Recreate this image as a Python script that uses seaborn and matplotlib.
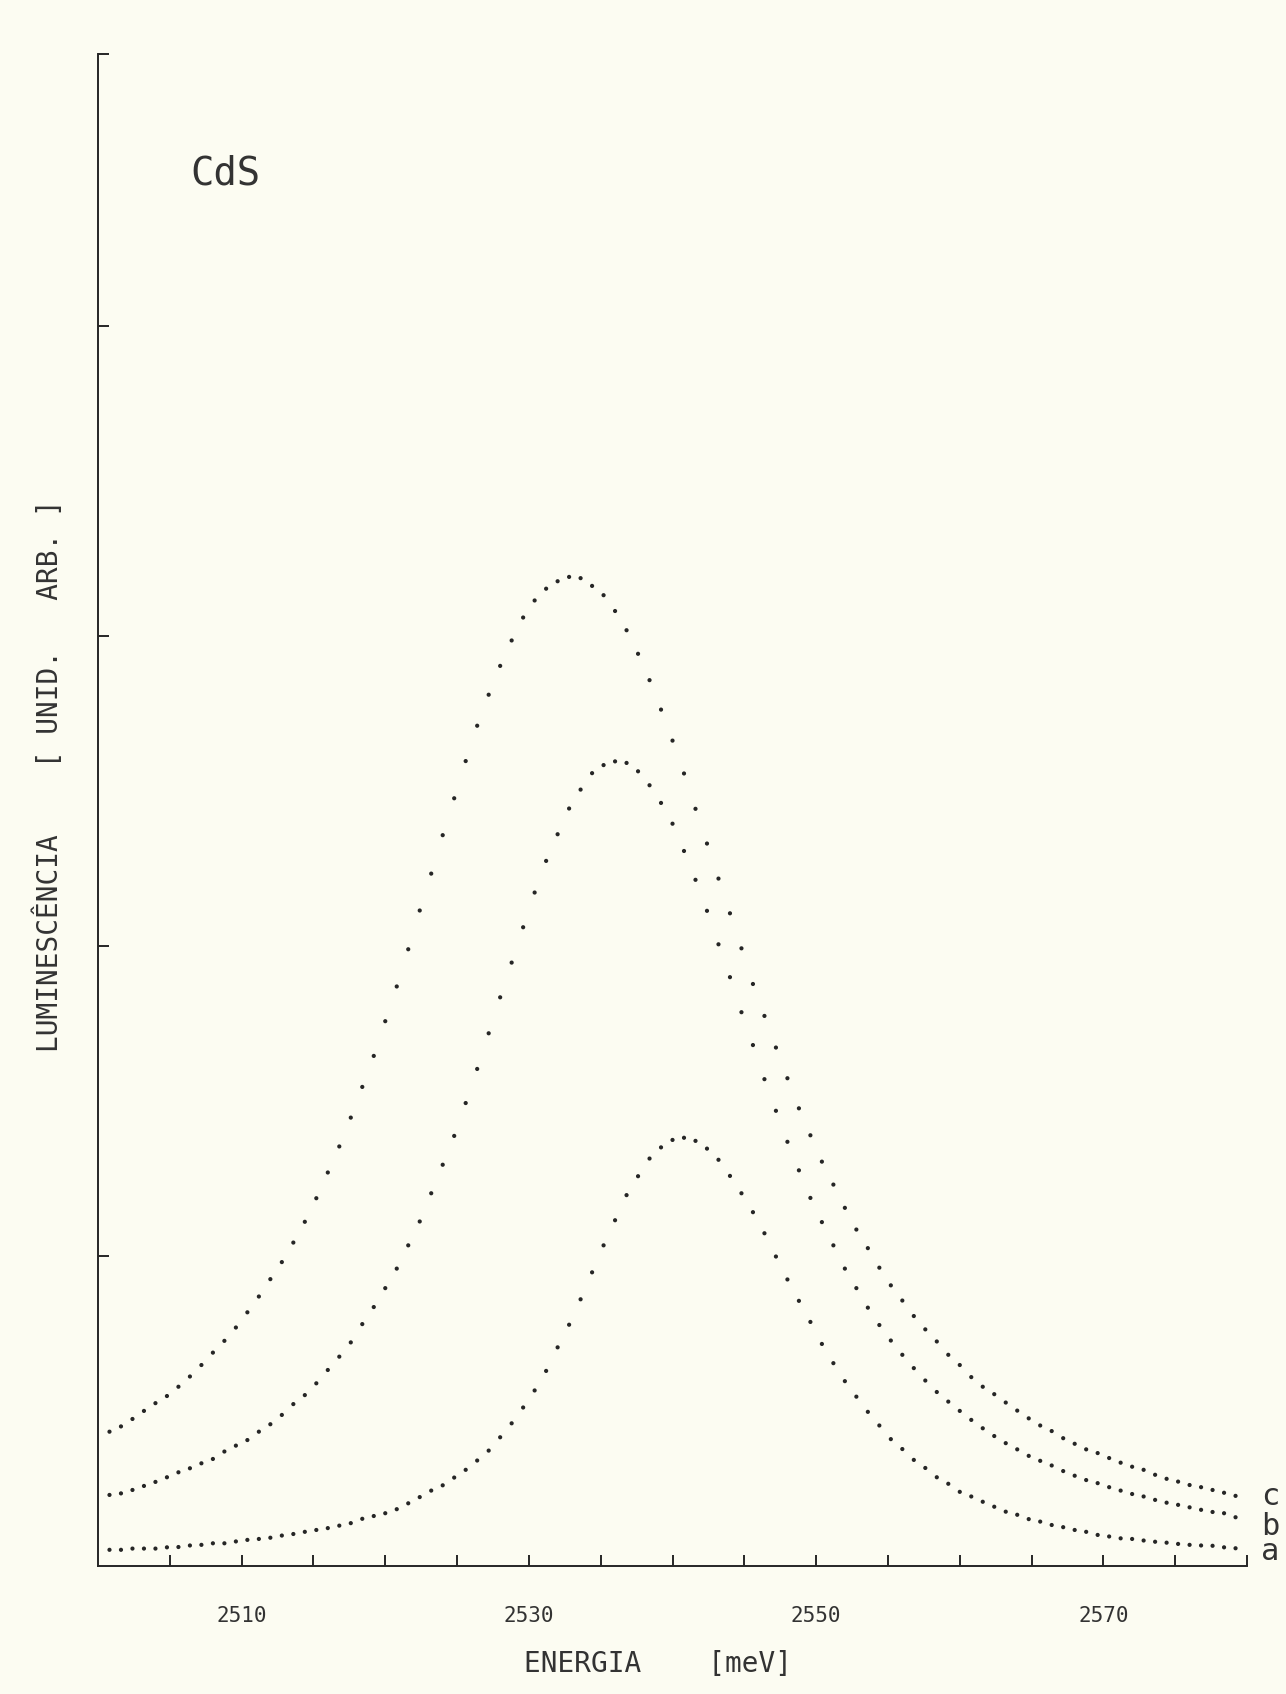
import numpy as np
import pandas as pd
import seaborn as sns
import matplotlib.pyplot as plt

sns.set_theme(style='ticks')
plt.rcParams['font.family'] = ['DejaVu Sans Mono', 'DejaVu Sans']

# energia dos pontos medidos [meV]
energia = [2500.8, 2501.6, 2502.4, 2503.2, 2504.0, 2504.8, 2505.6, 2506.4, 2507.2, 2508.0,
           2508.8, 2509.6, 2510.4, 2511.2, 2512.0, 2512.8, 2513.6, 2514.4, 2515.2, 2516.0,
           2516.8, 2517.6, 2518.4, 2519.2, 2520.0, 2520.8, 2521.6, 2522.4, 2523.2, 2524.0,
           2524.8, 2525.6, 2526.4, 2527.2, 2528.0, 2528.8, 2529.6, 2530.4, 2531.2, 2532.0,
           2532.8, 2533.6, 2534.4, 2535.2, 2536.0, 2536.8, 2537.6, 2538.4, 2539.2, 2540.0,
           2540.8, 2541.6, 2542.4, 2543.2, 2544.0, 2544.8, 2545.6, 2546.4, 2547.2, 2548.0,
           2548.8, 2549.6, 2550.4, 2551.2, 2552.0, 2552.8, 2553.6, 2554.4, 2555.2, 2556.0,
           2556.8, 2557.6, 2558.4, 2559.2, 2560.0, 2560.8, 2561.6, 2562.4, 2563.2, 2564.0,
           2564.8, 2565.6, 2566.4, 2567.2, 2568.0, 2568.8, 2569.6, 2570.4, 2571.2, 2572.0,
           2572.8, 2573.6, 2574.4, 2575.2, 2576.0, 2576.8, 2577.6, 2578.4, 2579.2]

curva_a = [0.052, 0.052, 0.056, 0.056, 0.056, 0.060, 0.061, 0.066, 0.068, 0.073,
           0.073, 0.079, 0.084, 0.087, 0.091, 0.098, 0.103, 0.110, 0.116, 0.122,
           0.130, 0.138, 0.152, 0.161, 0.170, 0.183, 0.202, 0.222, 0.243, 0.260,
           0.285, 0.310, 0.340, 0.372,
           0.415, 0.460, 0.511, 0.566, 0.629, 0.705, 0.778, 0.860, 0.947, 1.034,
           1.115, 1.196, 1.257, 1.314, 1.350, 1.374, 1.381, 1.371, 1.346, 1.310,
           1.258, 1.202, 1.141, 1.073, 0.998, 0.924, 0.855, 0.787, 0.716, 0.654,
           0.596, 0.546, 0.497, 0.453, 0.409,
           0.377, 0.342, 0.316, 0.286, 0.265, 0.239, 0.224, 0.207, 0.191, 0.175,
           0.165, 0.151, 0.143, 0.132, 0.125, 0.116, 0.110, 0.100, 0.095, 0.089,
           0.087, 0.082, 0.078, 0.075, 0.071, 0.068, 0.066, 0.065, 0.060, 0.057]

curva_b = [0.229, 0.234, 0.245, 0.258, 0.271, 0.286, 0.302, 0.315, 0.331, 0.345,
           0.369, 0.388, 0.406, 0.433, 0.457, 0.487, 0.522, 0.551, 0.589, 0.632,
           0.675, 0.721, 0.780, 0.835, 0.896, 0.959, 1.034, 1.111, 1.202, 1.294,
           1.387, 1.493, 1.603, 1.718,
           1.834, 1.946, 2.060, 2.172, 2.274, 2.360, 2.443, 2.504, 2.557, 2.583,
           2.595, 2.590, 2.563, 2.518, 2.461, 2.394, 2.306, 2.213, 2.113, 2.005,
           1.899, 1.786, 1.680,
           1.570, 1.468, 1.368, 1.276, 1.187, 1.109, 1.034, 0.959, 0.896, 0.833,
           0.777, 0.727,
           0.681, 0.638, 0.598, 0.561, 0.530, 0.500, 0.471, 0.444, 0.419, 0.396,
           0.376, 0.355, 0.339, 0.324, 0.306, 0.291, 0.277, 0.267, 0.254, 0.243,
           0.232, 0.224, 0.213, 0.204, 0.197, 0.189, 0.181, 0.174, 0.170, 0.157]

curva_c = [0.433, 0.450, 0.474, 0.500, 0.525, 0.548, 0.578, 0.611, 0.648, 0.688,
           0.726, 0.769, 0.818, 0.869, 0.925, 0.980, 1.043, 1.110, 1.186, 1.269,
           1.353, 1.446, 1.545,
           1.645, 1.757, 1.869, 1.989, 2.114, 2.233, 2.357, 2.476, 2.596, 2.710,
           2.810,
           2.903, 2.985, 3.059, 3.114, 3.152, 3.176, 3.190, 3.186, 3.161, 3.131,
           3.080, 3.018, 2.942, 2.857, 2.762, 2.662, 2.556, 2.442, 2.330, 2.217,
           2.105, 1.992, 1.877, 1.774, 1.672,
           1.573, 1.476, 1.389, 1.304, 1.230, 1.155, 1.085, 1.025, 0.962, 0.905,
           0.856, 0.806, 0.763, 0.724, 0.681, 0.648, 0.609, 0.578, 0.554, 0.527,
           0.501, 0.476, 0.453, 0.435, 0.412, 0.394, 0.376, 0.364, 0.348, 0.333,
           0.320, 0.310, 0.294, 0.281, 0.272, 0.261, 0.254, 0.245, 0.236, 0.226]

nomes = ['a', 'b', 'c']
xticks_rot = [2510, 2530, 2550, 2570]
xticks_menores = [2505, 2515, 2520, 2525, 2535, 2540, 2545, 2555, 2560, 2565, 2575, 2580]
yticks = [1, 2, 3, 4]

df = pd.DataFrame({
    'energia': energia * 3,
    'lum': curva_a + curva_b + curva_c,
    'curva': ['a'] * len(curva_a) + ['b'] * len(curva_b) + ['c'] * len(curva_c),
})

bg = '#fcfcf2'
ink = '#262626'
txt = '#333333'

fig = plt.figure(figsize=(12.86, 16.94), dpi=100, facecolor=bg)
ax = fig.add_axes([0.0762, 0.0756, 0.8935, 0.8926])
ax.set_facecolor(bg)

sns.scatterplot(data=df, x='energia', y='lum', hue='curva',
                palette={n: ink for n in nomes}, s=9, linewidth=0,
                legend=False, ax=ax)

ytop = 4.877
ax.set_xlim(2500, 2580)
ax.set_ylim(0, ytop)
sns.despine(ax=ax)
for s in ['left', 'bottom']:
    ax.spines[s].set_color(ink)
    ax.spines[s].set_linewidth(1.4)

ax.set_xticks(xticks_rot)
ax.set_xticklabels([str(t) for t in xticks_rot], fontsize=15, color=txt)
ax.set_xticks(xticks_menores, minor=True)
ax.set_yticks(yticks + [ytop])
ax.set_yticklabels([])
ax.tick_params(axis='both', which='both', direction='in', length=8, width=1.4,
               color=ink)
ax.tick_params(axis='x', which='major', pad=29)
ax.set_xlabel('')
ax.set_ylabel('')

# rotulos das curvas no lado direito
rot_y = {'a': 0.045, 'b': 0.128, 'c': 0.225}
for n in nomes:
    ax.text(2581.0, rot_y[n], n, fontsize=22, color=txt,
            ha='left', va='center', clip_on=False)

ax.text(0.111, 0.921, 'CdS', transform=ax.transAxes, fontsize=28,
        color=txt, ha='center', va='center')

fig.text(0.5117, 0.0177, 'ENERGIA    [meV]', fontsize=20, color=txt,
         ha='center', va='center')
fig.text(0.038, 0.542, 'LUMINESCÊNCIA    [ UNID.   ARB. ]', fontsize=20,
         color=txt, ha='center', va='center', rotation=90)

fig.savefig('out.png', dpi=100, facecolor=bg)
